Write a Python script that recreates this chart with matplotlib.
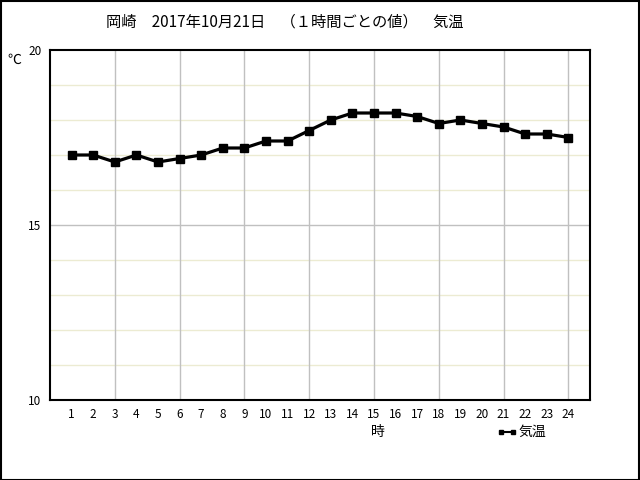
import matplotlib
matplotlib.use('Agg')
import matplotlib.pyplot as plt
import numpy as np

plt.rcParams['font.family'] = ['Noto Sans CJK JP', 'DejaVu Sans']

# hourly temperatures (deg C), 岡崎 2017-10-21
hours = np.arange(1, 25)
temps = [17.0, 17.0, 16.8, 17.0, 16.8, 16.9, 17.0, 17.2, 17.2, 17.4, 17.4, 17.7,
         18.0, 18.2, 18.2, 18.2, 18.1, 17.9, 18.0, 17.9, 17.8, 17.6, 17.6, 17.5]
title = '岡崎　2017年10月21日　（１時間ごとの値）　気温'

fig = plt.figure(figsize=(6.4, 4.8), dpi=100)
ax = fig.add_axes((50/640, 80/480, 540/640, 350/480))

ax.set_xlim(0, 25)
ax.set_ylim(10, 20)

# minor grid every 1 deg (beige), major at 15 (gray), vertical every 3 h
for y in range(11, 20):
    c = '#c0c0c0' if y == 15 else '#ecebd2'
    ax.axhline(y, color=c, linewidth=1, zorder=0)
for x in range(3, 25, 3):
    ax.axvline(x, color='#c0c0c0', linewidth=1, zorder=0)

ax.plot(hours, temps, color='black', linewidth=2.3, marker='s', markersize=5.5, zorder=3)

ax.set_xticks(hours)
ax.set_xticklabels([str(h) for h in hours], fontsize=8.5)
ax.set_yticks([10, 15, 20])
ax.set_yticklabels(['10', '15', '20'], fontsize=8.5)
ax.tick_params(length=0, pad=6)
for s in ax.spines.values():
    s.set_linewidth(1.5)

fig.text(285/640, 1 - 22/480, title, ha='center', va='center', fontsize=11)
fig.text(14/640, 1 - 60/480, '℃', ha='center', va='center', fontsize=10)
fig.text(378/640, 1 - 432/480, '時', ha='center', va='center', fontsize=10)
fig.lines.append(plt.Line2D([501/640, 513/640], [1 - 432/480, 1 - 432/480],
                            transform=fig.transFigure, color='black', linewidth=1.5,
                            marker='s', markersize=2.5))
fig.text(518/640, 1 - 432/480, '気温', ha='left', va='center', fontsize=10)

# outer border
fig.patches.append(plt.Rectangle((0.001, 0.001), 0.997, 0.997, transform=fig.transFigure,
                                 fill=False, edgecolor='black', linewidth=1.5))

fig.savefig('out.png', dpi=100)
